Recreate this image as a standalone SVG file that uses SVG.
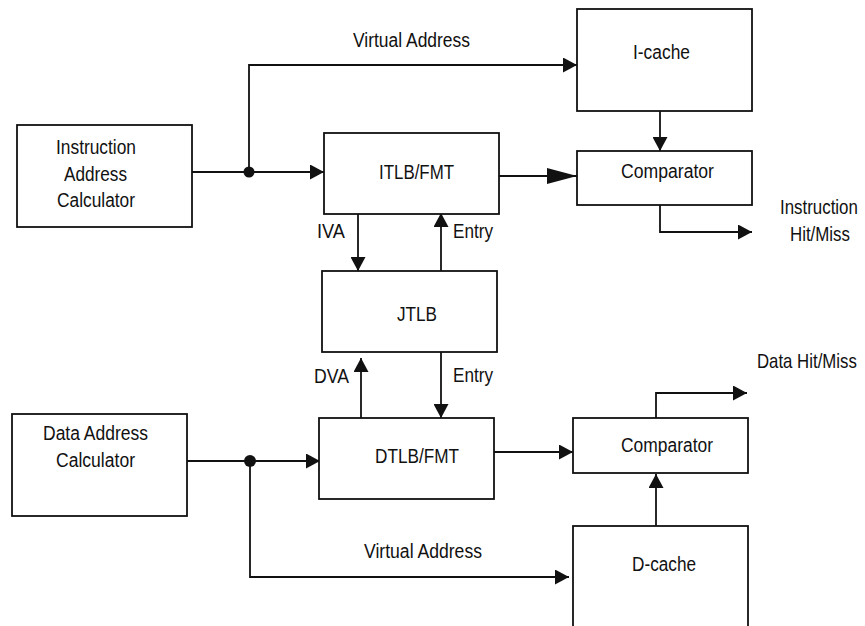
<svg xmlns="http://www.w3.org/2000/svg" width="865" height="626" viewBox="0 0 865 626">
<style>
.box{fill:#fff;stroke:#111;stroke-width:1.8}
.ln{fill:none;stroke:#111;stroke-width:1.8;marker-end:url(#ah)}
.lnL{fill:none;stroke:#111;stroke-width:1.8;marker-end:url(#ahL)}
text{font-family:"Liberation Sans",Arial,sans-serif;font-size:20px;fill:#111}
</style>
<defs>
<marker id="ah" viewBox="0 0 14 15" refX="14" refY="7.5" markerWidth="14" markerHeight="15" markerUnits="userSpaceOnUse" orient="auto"><path d="M0,0 L14,7.5 L0,15 z" fill="#111"/></marker>
<marker id="ahL" viewBox="0 0 30 16" refX="30" refY="8" markerWidth="30" markerHeight="16" markerUnits="userSpaceOnUse" orient="auto"><path d="M0,0 L30,8 L0,16 z" fill="#111"/></marker>
</defs>
<rect width="865" height="626" fill="#fff"/>
<g id="connectors">
<path class="ln" d="M192,172 H324"/>
<path class="ln" d="M249,172 V65 H577"/>
<circle cx="249" cy="172" r="5.5" fill="#111"/>
<path class="lnL" d="M499,176 H577"/>
<path class="ln" d="M660,111 V151"/>
<path class="ln" d="M660,205 V232 H752"/>
<path class="ln" d="M358,214 V271"/>
<path class="ln" d="M441,271 V213"/>
<path class="ln" d="M361,418 V358"/>
<path class="ln" d="M441,352 V418"/>
<path class="ln" d="M187,461 H320"/>
<circle cx="250" cy="461" r="6" fill="#111"/>
<path class="ln" d="M250,461 V577 H569"/>
<path class="ln" d="M494,452 H573"/>
<path class="ln" d="M656,526 V474"/>
<path class="ln" d="M656,418 V393 H747"/>
<text x="353" y="47" textLength="117" lengthAdjust="spacingAndGlyphs">Virtual Address</text>
<text transform="translate(780,214) scale(0.845,1)">Instruction</text>
<text x="790" y="241" textLength="60" lengthAdjust="spacingAndGlyphs">Hit/Miss</text>
<text x="317" y="238" textLength="28" lengthAdjust="spacingAndGlyphs">IVA</text>
<text x="453" y="238" textLength="40" lengthAdjust="spacingAndGlyphs">Entry</text>
<text x="314" y="383" textLength="35" lengthAdjust="spacingAndGlyphs">DVA</text>
<text x="453" y="382" textLength="40" lengthAdjust="spacingAndGlyphs">Entry</text>
<text transform="translate(757,368) scale(0.84,1)">Data Hit/Miss</text>
<text x="364" y="558" textLength="118" lengthAdjust="spacingAndGlyphs">Virtual Address</text>
</g>
<g id="iac">
<rect class="box" x="17" y="125" width="175" height="102"/>
<text x="56" y="154" textLength="80" lengthAdjust="spacingAndGlyphs">Instruction</text>
<text x="64" y="181" textLength="63" lengthAdjust="spacingAndGlyphs">Address</text>
<text x="57" y="207" textLength="78" lengthAdjust="spacingAndGlyphs">Calculator</text>
</g>
<g id="icache">
<rect class="box" x="577" y="9" width="175" height="102"/>
<text x="633" y="59" textLength="57" lengthAdjust="spacingAndGlyphs">I-cache</text>
</g>
<g id="itlb">
<rect class="box" x="324" y="133" width="175" height="81"/>
<text x="379" y="179" textLength="75" lengthAdjust="spacingAndGlyphs">ITLB/FMT</text>
</g>
<g id="comp1">
<rect class="box" x="577" y="151" width="175" height="54"/>
<text x="621" y="178" textLength="93" lengthAdjust="spacingAndGlyphs">Comparator</text>
</g>
<g id="jtlb">
<rect class="box" x="322" y="271" width="175" height="81"/>
<text x="397" y="321" textLength="40" lengthAdjust="spacingAndGlyphs">JTLB</text>
</g>
<g id="dac">
<rect class="box" x="12" y="414" width="175" height="102"/>
<text x="43" y="440" textLength="105" lengthAdjust="spacingAndGlyphs">Data Address</text>
<text x="56" y="467" textLength="79" lengthAdjust="spacingAndGlyphs">Calculator</text>
</g>
<g id="dtlb">
<rect class="box" x="319" y="418" width="175" height="81"/>
<text x="375" y="463" textLength="84" lengthAdjust="spacingAndGlyphs">DTLB/FMT</text>
</g>
<g id="comp2">
<rect class="box" x="573" y="418" width="175" height="55"/>
<text x="621" y="452" textLength="92" lengthAdjust="spacingAndGlyphs">Comparator</text>
</g>
<g id="dcache">
<rect class="box" x="573" y="526" width="175" height="112"/>
<text x="632" y="571" textLength="64" lengthAdjust="spacingAndGlyphs">D-cache</text>
</g>
</svg>
